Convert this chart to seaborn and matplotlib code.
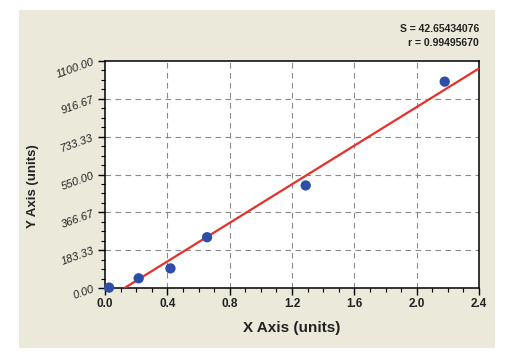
import matplotlib
matplotlib.use("Agg")
import matplotlib.pyplot as plt
import seaborn as sns
import pandas as pd
from matplotlib.patches import Rectangle
from matplotlib.ticker import MultipleLocator

# Data
x_vals = [0.026, 0.216, 0.42, 0.655, 1.288, 2.18]
y_vals = [2, 47, 95, 246, 497, 1000]
fit_x = [0.125, 2.4]
fit_y = [0, 1064]
x_ticks = [0.0, 0.4, 0.8, 1.2, 1.6, 2.0, 2.4]
x_tick_labels = ["0.0", "0.4", "0.8", "1.2", "1.6", "2.0", "2.4"]
y_ticks = [0.0, 183.33, 366.67, 550.0, 733.33, 916.67, 1100.0]
y_tick_labels = ["0.00", "183.33", "366.67", "550.00", "733.33", "916.67", "1100.00"]
stats_lines = ["S = 42.65434076", "r = 0.99495670"]

sns.set_theme(style="white")
plt.rcParams['font.family'] = ['Liberation Sans', 'DejaVu Sans']

W, H = 526, 353
fig = plt.figure(figsize=(W / 100, H / 100), dpi=100)
fig.patch.set_facecolor("white")
fig.patches.append(Rectangle((19 / W, 1 - 348 / H), (495 - 19) / W, (348 - 10) / H,
                             transform=fig.transFigure, facecolor="#EBE9DA",
                             edgecolor="none", zorder=-5))

ax = fig.add_axes([105 / W, 1 - 288 / H, (479 - 105) / W, (288 - 61) / H])
ax.set_zorder(2)
ax.set_facecolor("white")

df = pd.DataFrame({"x": x_vals, "y": y_vals})
fit = pd.DataFrame({"x": fit_x, "y": fit_y})
sns.lineplot(data=fit, x="x", y="y", ax=ax, color="#E8302A", linewidth=1.6, zorder=3)
sns.scatterplot(data=df, x="x", y="y", ax=ax, color="#2D4EA6", s=55, edgecolor="none",
                zorder=4, clip_on=False)

ax.set_xlim(0, 2.4)
ax.set_ylim(0, 1100)
ax.set_xticks(x_ticks)
ax.set_xticklabels(x_tick_labels, fontsize=8.5, fontweight="bold", color="#222222")
ax.set_yticks(y_ticks)
ax.set_yticklabels(y_tick_labels, fontsize=8, style="italic", color="#222222", rotation=20)
ax.xaxis.set_minor_locator(MultipleLocator(0.1))
ax.yaxis.set_minor_locator(MultipleLocator(1100 / 24))
ax.tick_params(axis="both", which="major", direction="out", length=5, width=1, color="black",
               bottom=True, left=True, pad=2)
ax.tick_params(axis="both", which="minor", direction="out", length=3, width=0.8, color="black",
               bottom=True, left=True)

for v in x_ticks[1:-1]:
    ax.axvline(v, color="#8A8A8A", linestyle=(0, (5, 4)), linewidth=0.8, zorder=1)
for v in y_ticks[1:-1]:
    ax.axhline(v, color="#8A8A8A", linestyle=(0, (5, 4)), linewidth=0.8, zorder=1)

for s in ax.spines.values():
    s.set_color("black")
    s.set_linewidth(1.1)

ax.set_xlabel("")
ax.set_ylabel("")
fig.text(292 / W, 1 - 328 / H, "X Axis (units)", fontsize=11, fontweight="bold",
         ha="center", va="center", color="#222222")
fig.text(33 / W, 1 - 186 / H, "Y Axis (units)", fontsize=9.5, fontweight="bold",
         ha="center", va="center", rotation=90, color="#222222")
fig.text(479 / W, 1 - 29 / H, stats_lines[0], fontsize=7.5, fontweight="bold",
         ha="right", va="center", color="#222222")
fig.text(479 / W, 1 - 43 / H, stats_lines[1], fontsize=7.5, fontweight="bold",
         ha="right", va="center", color="#222222")

fig.savefig("out.png", dpi=100, facecolor=fig.get_facecolor())
